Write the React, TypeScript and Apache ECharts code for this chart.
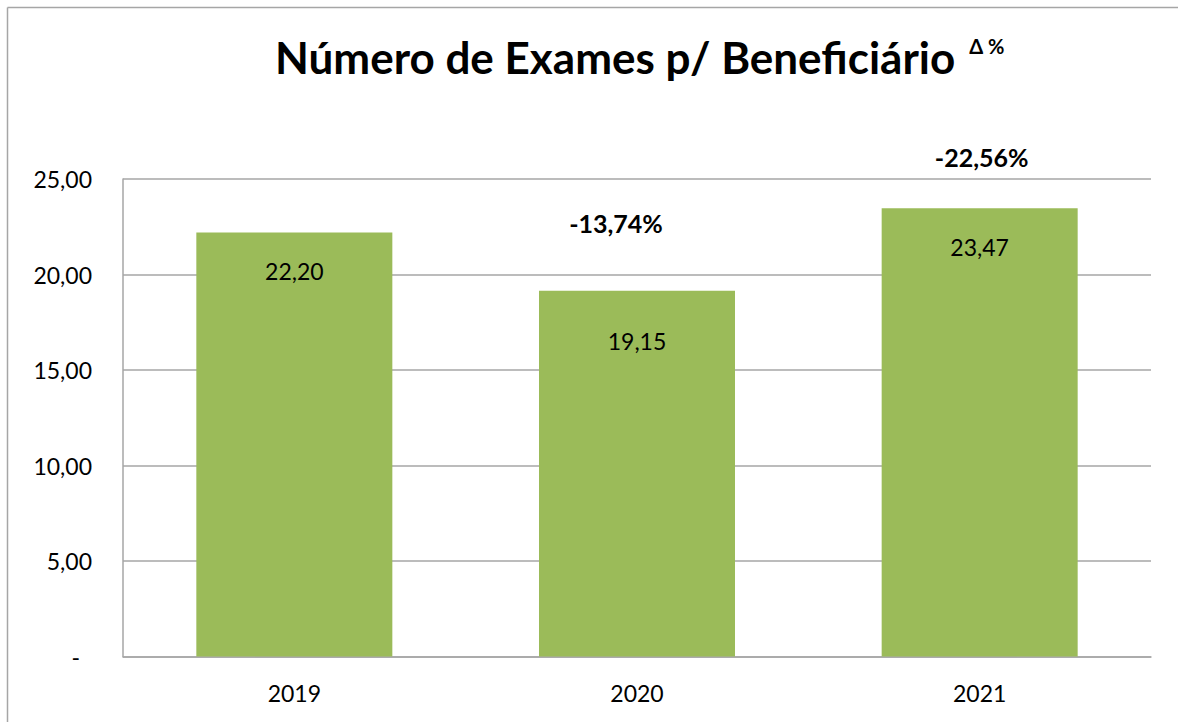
import React, { useEffect, useRef } from "react";
import * as echarts from "echarts";

const categories = ["2019", "2020", "2021"];
const values = [22.2, 19.15, 23.47];
const deltaLabels = ["", "-13,74%", "-22,56%"];
const yTicks = { min: 0, max: 25, interval: 5 };
const titleMain = "Número de Exames p/ Beneficiário";
const titleSup = "Δ %";

const FONT = "Lato, 'Open Sans', sans-serif";

const fmt = (v: number) => v.toFixed(2).replace(".", ",");

export default function App() {
  const ref = useRef<HTMLDivElement>(null);
  useEffect(() => {
    if (!ref.current) return;
    const chart = echarts.init(ref.current, undefined, { renderer: "svg" });
    const valueLabelOffsets = [[0, 0], [0, 12], [0, 0]];
    const deltaOffsets = [[0, 0], [-21, -55], [2, -39]];
    chart.setOption({
      animation: false,
      backgroundColor: "#ffffff",
      textStyle: { fontFamily: FONT },
      title: {
        left: 270,
        top: 25,
        text: `{a|${titleMain}}{b|${titleSup}}`,
        textStyle: {
          rich: {
            a: { fontFamily: FONT, fontWeight: "bold", fontSize: 44, color: "#000", lineHeight: 54 },
            b: { fontFamily: FONT, fontSize: 20, color: "#000", verticalAlign: "top", padding: [6, 0, 0, 14], lineHeight: 54 },
          },
        },
      },
      graphic: [
        {
          type: "line",
          shape: { x1: 7.5, y1: 7.5, x2: 1178, y2: 7.5 },
          style: { stroke: "#a6a6a6", lineWidth: 1.5 },
          silent: true,
        },
        {
          type: "line",
          shape: { x1: 7.5, y1: 7.5, x2: 7.5, y2: 722 },
          style: { stroke: "#a6a6a6", lineWidth: 1.5 },
          silent: true,
        },
      ],
      grid: { left: 123, right: 27, top: 179, bottom: 65.5, containLabel: false },
      xAxis: {
        type: "category",
        data: categories,
        axisLine: { show: true, lineStyle: { color: "#a6a6a6", width: 1.5 } },
        axisTick: { show: false },
        axisLabel: { color: "#000", fontSize: 23, fontFamily: FONT, margin: 25 },
      },
      yAxis: {
        type: "value",
        min: yTicks.min,
        max: yTicks.max,
        interval: yTicks.interval,
        axisLine: { show: true, lineStyle: { color: "#a6a6a6", width: 1.5 } },
        axisTick: { show: false },
        splitLine: { show: true, lineStyle: { color: "#a6a6a6", width: 1.5 } },
        axisLabel: {
          color: "#000",
          fontSize: 23,
          fontFamily: FONT,
          margin: 31,
          formatter: (v: number) => (v === 0 ? "{d|-}" : fmt(v)),
          rich: { d: { fontSize: 23, fontFamily: FONT, color: "#000", padding: [0, 12, 0, 0] } },
        },
      },
      series: [
        {
          type: "bar",
          barCategoryGap: "42.8%",
          data: values.map((v, i) => ({
            value: v,
            label: { offset: valueLabelOffsets[i] },
          })),
          itemStyle: { color: "#9bbb59" },
          label: {
            show: true,
            position: "insideTop",
            distance: 27,
            color: "#000",
            fontSize: 23,
            fontFamily: FONT,
            formatter: (p: any) => fmt(p.value),
          },
        },
        {
          type: "bar",
          barGap: "-100%",
          barCategoryGap: "42.8%",
          silent: true,
          data: values.map((v, i) => ({
            value: v,
            label: { offset: deltaOffsets[i] },
          })),
          itemStyle: { color: "rgba(0,0,0,0)" },
          label: {
            show: true,
            position: "top",
            distance: 0,
            color: "#000",
            fontSize: 25,
            fontWeight: "bold",
            fontFamily: FONT,
            formatter: (p: any) => deltaLabels[p.dataIndex],
          },
        },
      ],
    });
    return () => chart.dispose();
  }, []);
  return (
    <div
      ref={ref}
      style={{ position: "absolute", left: 0, top: 0, width: 1178, height: 722 }}
    />
  );
}
